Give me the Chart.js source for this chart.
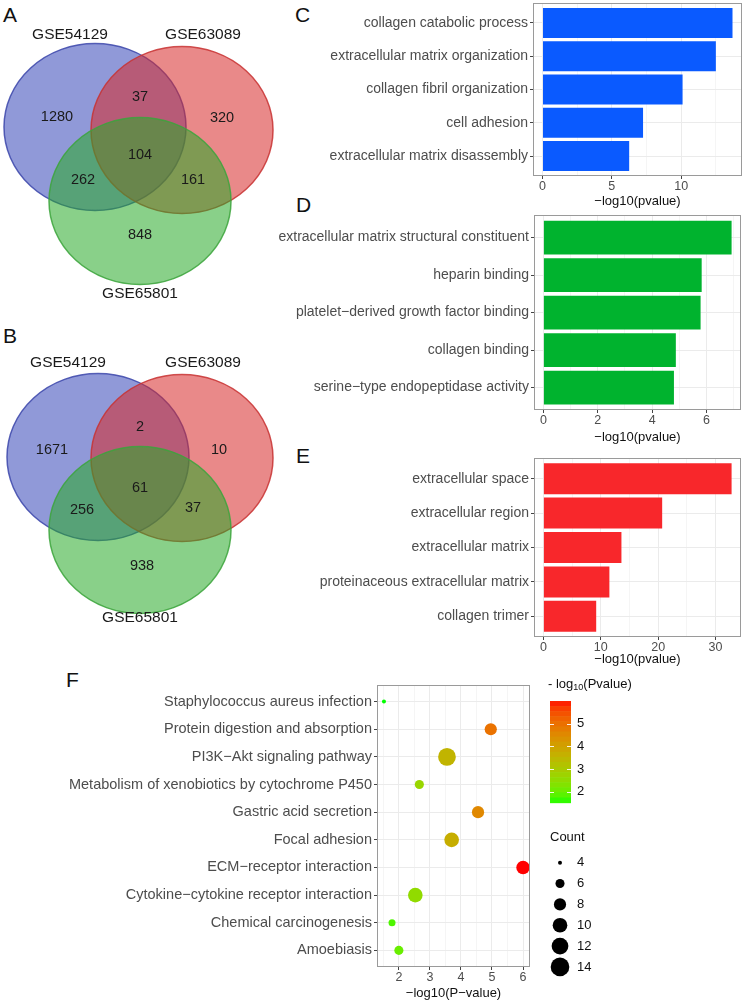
<!DOCTYPE html>
<html>
<head>
<meta charset="utf-8">
<script src="https://cdn.jsdelivr.net/npm/chart.js@4.4.1/dist/chart.umd.min.js"></script>
<style>
  body { margin: 0; background: #fff; width: 744px; height: 1004px; position: relative; overflow: hidden;
         font-family: "Liberation Sans", Arial, sans-serif; }
  canvas { position: absolute; }
  .tag { position: absolute; font-size: 21px; line-height: 1; color: #111; }
</style>
</head>
<body>
<div class="tag" style="left:3px;top:4px">A</div>
<div class="tag" style="left:3px;top:325px">B</div>
<div class="tag" style="left:295px;top:4px">C</div>
<div class="tag" style="left:296px;top:194px">D</div>
<div class="tag" style="left:296px;top:445px">E</div>
<div class="tag" style="left:66px;top:669px">F</div>

<canvas id="vennA"></canvas>
<canvas id="vennB"></canvas>
<canvas id="goBP"></canvas>
<canvas id="goMF"></canvas>
<canvas id="goCC"></canvas>
<canvas id="kegg"></canvas>

<script>
const FONT = '"Liberation Sans", Arial, sans-serif';

// Venn sets and region counts
// region order: only 1, 1&2, only 2, 1&3, all three, 2&3, only 3
const VENN_SETS = ["GSE54129", "GSE63089", "GSE65801"];
const VENN_A_COUNTS = [1280, 37, 320, 262, 104, 161, 848];
const VENN_B_COUNTS = [1671, 2, 10, 256, 61, 37, 938];

// GO enrichment, -log10(pvalue)
const BP_TERMS = ["collagen catabolic process", "extracellular matrix organization",
  "collagen fibril organization", "cell adhesion", "extracellular matrix disassembly"];
const BP_VALUES = [13.7, 12.5, 10.1, 7.25, 6.25];
const BP_TICKS = [0, 5, 10];

const MF_TERMS = ["extracellular matrix structural constituent", "heparin binding",
  "platelet\u2212derived growth factor binding", "collagen binding", "serine\u2212type endopeptidase activity"];
const MF_VALUES = [6.92, 5.82, 5.78, 4.87, 4.80];
const MF_TICKS = [0, 2, 4, 6];

const CC_TERMS = ["extracellular space", "extracellular region", "extracellular matrix",
  "proteinaceous extracellular matrix", "collagen trimer"];
const CC_VALUES = [32.8, 20.7, 13.6, 11.5, 9.2];
const CC_TICKS = [0, 10, 20, 30];

// KEGG pathways
const KEGG_TERMS = ["Staphylococcus aureus infection", "Protein digestion and absorption",
  "PI3K\u2212Akt signaling pathway", "Metabolism of xenobiotics by cytochrome P450",
  "Gastric acid secretion", "Focal adhesion", "ECM\u2212receptor interaction",
  "Cytokine\u2212cytokine receptor interaction", "Chemical carcinogenesis", "Amoebiasis"];
const KEGG_VALUES = [1.52, 4.96, 3.55, 2.66, 4.55, 3.7, 6.0, 2.53, 1.78, 2.0];
const KEGG_COUNTS = [4, 8, 13, 6, 8, 10, 9, 10, 5, 6];
const KEGG_TICKS = [2, 3, 4, 5, 6];
const COLOR_BREAKS = [2, 3, 4, 5];
const COUNT_BREAKS = [4, 6, 8, 10, 12, 14];

// layout of the two venn panels (canvas pixels)
const VENN_LAYOUT = {
  A: { left: 0, top: 0, w: 275, h: 300, rx: 91, ry: 83.5,
       circles: [[95, 127], [182, 130], [140, 201]],
       names: [[70, 35], [203, 35], [140, 294]],
       regions: [[57, 117], [140, 97], [222, 118], [83, 180], [140, 155], [193, 180], [140, 235]] },
  B: { left: 0, top: 300, w: 275, h: 330, rx: 91, ry: 83.5,
       circles: [[98, 157], [182, 158], [140, 230]],
       names: [[68, 63], [203, 63], [140, 318]],
       regions: [[52, 150], [140, 127], [219, 150], [82, 210], [140, 188], [193, 208], [142, 266]] }
};
const VENN_FILLS = ["rgba(70,85,190,0.6)", "rgba(215,40,40,0.55)", "rgba(40,170,40,0.55)"];
const VENN_LINES = ["rgba(60,70,170,0.85)", "rgba(200,50,50,0.85)", "rgba(60,165,60,0.85)"];

function place(canvas, box) {
  canvas.width = box.w;
  canvas.height = box.h;
  canvas.style.left = box.left + "px";
  canvas.style.top = box.top + "px";
}

const vennPlugin = {
  id: "venn",
  beforeDatasetsDraw(chart) {
    const lay = chart.options.plugins.venn.layout;
    const { ctx, scales: { x, y } } = chart;
    lay.circles.forEach((c, i) => {
      const cx = x.getPixelForValue(c[0]), cy = y.getPixelForValue(c[1]);
      const rx = Math.abs(x.getPixelForValue(c[0] + lay.rx) - cx);
      const ry = Math.abs(y.getPixelForValue(c[1] + lay.ry) - cy);
      ctx.save();
      ctx.beginPath();
      ctx.ellipse(cx, cy, rx, ry, 0, 0, Math.PI * 2);
      ctx.fillStyle = VENN_FILLS[i];
      ctx.fill();
      ctx.lineWidth = 1.5;
      ctx.strokeStyle = VENN_LINES[i];
      ctx.stroke();
      ctx.restore();
    });
  },
  afterDatasetsDraw(chart) {
    const { ctx } = chart;
    const opts = chart.options.plugins.venn;
    ctx.save();
    ctx.fillStyle = "#1a1a1a";
    ctx.textAlign = "center";
    ctx.textBaseline = "middle";
    ctx.font = "15.5px " + FONT;
    chart.getDatasetMeta(0).data.forEach((pt, i) => ctx.fillText(VENN_SETS[i], pt.x, pt.y));
    ctx.font = "14.5px " + FONT;
    chart.getDatasetMeta(1).data.forEach((pt, i) => ctx.fillText(String(opts.counts[i]), pt.x, pt.y));
    ctx.restore();
  }
};

function vennPanel(id, lay, counts) {
  const canvas = document.getElementById(id);
  place(canvas, lay);
  new Chart(canvas, {
    type: "scatter",
    data: {
      datasets: [
        { data: lay.names.map(p => ({ x: p[0], y: p[1] })), pointRadius: 0 },
        { data: lay.regions.map(p => ({ x: p[0], y: p[1] })), pointRadius: 0 }
      ]
    },
    options: {
      responsive: false, animation: false,
      layout: { padding: 0 },
      plugins: { legend: { display: false }, tooltip: { enabled: false },
                 venn: { layout: lay, counts: counts } },
      scales: {
        x: { type: "linear", min: 0, max: lay.w, display: false },
        y: { type: "linear", min: 0, max: lay.h, reverse: true, display: false }
      }
    },
    plugins: [vennPlugin]
  });
}

const framePlugin = {
  id: "frame",
  afterDatasetsDraw(chart) {
    const a = chart.chartArea, ctx = chart.ctx;
    ctx.save();
    ctx.strokeStyle = "#9a9a9a";
    ctx.lineWidth = 1;
    ctx.strokeRect(Math.round(a.left) + 0.5, Math.round(a.top) + 0.5,
      Math.round(a.right - a.left) - 1, Math.round(a.bottom - a.top) - 1);
    ctx.restore();
  }
};

// ggplot-like major + minor breaks
function withMinors(major) {
  const step = major[1] - major[0];
  const out = [];
  major.forEach(v => {
    out.push({ value: v, major: true });
    out.push({ value: v + step / 2, major: false });
  });
  out.unshift({ value: major[0] - step / 2, major: false });
  return out;
}

function gridColor(ctx) {
  return ctx.tick && ctx.tick.major === false ? "#f5f5f5" : "#ebebeb";
}

function xAxis(ticks, lo, hi, box, area, title) {
  return {
    type: "linear", min: lo, max: hi,
    afterBuildTicks: ax => {
      ax.ticks = withMinors(ticks).filter(t => t.value >= lo && t.value <= hi);
    },
    afterFit: ax => { ax.height = box.top + box.h - area.b; },
    border: { display: false },
    grid: {
      color: gridColor, lineWidth: 1, drawTicks: true, tickLength: 3,
      tickColor: c => (c.tick && c.tick.major === false ? "rgba(0,0,0,0)" : "#444")
    },
    ticks: {
      autoSkip: false, maxRotation: 0, padding: 0, color: "#4d4d4d",
      font: { family: FONT, size: 12.5 },
      callback: (v, i, arr) => (arr[i].major === false ? "" : String(v))
    },
    title: { display: true, text: title, color: "#111", padding: 0,
             font: { family: FONT, size: 13 } }
  };
}

function yAxis(terms, box, area, size) {
  return {
    type: "linear", reverse: true, min: 0.4, max: terms.length + 0.6,
    offset: false,
    afterBuildTicks: ax => { ax.ticks = terms.map((t, i) => ({ value: i + 1 })); },
    afterFit: ax => { ax.width = area.l - box.left; },
    border: { display: false },
    grid: { offset: false, color: "#ebebeb", drawTicks: true, tickLength: 3, tickColor: "#444" },
    ticks: { autoSkip: false, padding: 2, color: "#4d4d4d",
             font: { family: FONT, size: size, lineHeight: 0.1 },
             callback: v => terms[Math.round(v) - 1] }
  };
}

function barPanel(id, terms, values, ticks, color, box, area) {
  const canvas = document.getElementById(id);
  place(canvas, box);
  const top = Math.max(...values);
  const lo = -0.05 * top, hi = top * 1.05;
  new Chart(canvas, {
    type: "bar",
    data: {
      datasets: [{
        data: values.map((v, i) => ({ x: v, y: i + 1 })),
        backgroundColor: color, borderWidth: 0,
        categoryPercentage: 1, barPercentage: 0.9
      }]
    },
    options: {
      indexAxis: "y", responsive: false, animation: false,
      layout: { padding: { top: area.t - box.top, right: box.left + box.w - area.r, left: 0, bottom: 0 } },
      plugins: { legend: { display: false }, tooltip: { enabled: false } },
      scales: {
        x: xAxis(ticks, lo, hi, box, area, "\u2212log10(pvalue)"),
        y: yAxis(terms, box, area, 14)
      }
    },
    plugins: [framePlugin]
  });
}

// colour scale: green -> red interpolated in Lab like ggplot
function toLab([r, g, b]) {
  const lin = c => { c /= 255; return c <= 0.04045 ? c / 12.92 : Math.pow((c + 0.055) / 1.055, 2.4); };
  const R = lin(r), G = lin(g), B = lin(b);
  const X = (R * 0.4124 + G * 0.3576 + B * 0.1805) / 0.95047;
  const Y = R * 0.2126 + G * 0.7152 + B * 0.0722;
  const Z = (R * 0.0193 + G * 0.1192 + B * 0.9505) / 1.08883;
  const f = t => (t > 0.008856 ? Math.cbrt(t) : 7.787 * t + 16 / 116);
  const fx = f(X), fy = f(Y), fz = f(Z);
  return [116 * fy - 16, 500 * (fx - fy), 200 * (fy - fz)];
}
function fromLab([L, a, b]) {
  const fy = (L + 16) / 116, fx = fy + a / 500, fz = fy - b / 200;
  const inv = t => (t * t * t > 0.008856 ? t * t * t : (t - 16 / 116) / 7.787);
  const X = inv(fx) * 0.95047, Y = inv(fy), Z = inv(fz) * 1.08883;
  const R = X * 3.2406 - Y * 1.5372 - Z * 0.4986;
  const G = -X * 0.9689 + Y * 1.8758 + Z * 0.0415;
  const B = X * 0.0557 - Y * 0.2040 + Z * 1.0570;
  const gam = c => {
    c = c <= 0.0031308 ? 12.92 * c : 1.055 * Math.pow(c, 1 / 2.4) - 0.055;
    return Math.round(Math.max(0, Math.min(1, c)) * 255);
  };
  return [gam(R), gam(G), gam(B)];
}
const LOW = toLab([0, 255, 0]), HIGH = toLab([255, 0, 0]);
const VMIN = Math.min(...KEGG_VALUES), VMAX = Math.max(...KEGG_VALUES);
function colorFor(v) {
  const t = Math.max(0, Math.min(1, (v - VMIN) / (VMAX - VMIN)));
  const c = fromLab(LOW.map((l, i) => l + (HIGH[i] - l) * t));
  return `rgb(${c[0]},${c[1]},${c[2]})`;
}
function sizeFor(count) {
  return Math.sqrt(4 + (count - 4) * 8.3);
}

const keggLegend = {
  id: "keggLegend",
  afterDraw(chart) {
    const ctx = chart.ctx;
    const ox = -50, oy = -668; // page -> canvas offset
    ctx.save();
    ctx.fillStyle = "#111";
    ctx.textBaseline = "middle";
    ctx.textAlign = "left";
    // title with subscript
    let x = 548 + ox;
    const ty = 684 + oy;
    ctx.font = "13px " + FONT;
    ctx.fillText("- log", x, ty);
    x += ctx.measureText("- log").width;
    ctx.font = "9px " + FONT;
    ctx.fillText("10", x, ty + 4);
    x += ctx.measureText("10").width;
    ctx.font = "13px " + FONT;
    ctx.fillText("(Pvalue)", x, ty);

    // colour bar
    const unit = 22.67, barTop = 701 + oy, bx = 550 + ox, bw = 21;
    const yOf = v => barTop + (VMAX - v) * unit;
    const bins = 20;
    for (let i = 0; i < bins; i++) {
      const v0 = VMAX - (VMAX - VMIN) * i / bins;
      const v1 = VMAX - (VMAX - VMIN) * (i + 1) / bins;
      ctx.fillStyle = colorFor((v0 + v1) / 2);
      ctx.fillRect(bx, yOf(v0), bw, yOf(v1) - yOf(v0) + 0.6);
    }
    ctx.strokeStyle = "rgba(255,255,255,0.9)";
    ctx.lineWidth = 1;
    ctx.fillStyle = "#111";
    ctx.font = "13px " + FONT;
    COLOR_BREAKS.forEach(b => {
      const y = Math.round(yOf(b)) + 0.5;
      ctx.beginPath();
      ctx.moveTo(bx, y); ctx.lineTo(bx + 4, y);
      ctx.moveTo(bx + bw - 4, y); ctx.lineTo(bx + bw, y);
      ctx.stroke();
      ctx.fillText(String(b), 577 + ox, yOf(b));
    });

    // size legend
    ctx.fillText("Count", 550 + ox, 837 + oy);
    COUNT_BREAKS.forEach((c, i) => {
      const y = 862.7 + oy + i * 20.85;
      ctx.beginPath();
      ctx.arc(560 + ox, y, sizeFor(c), 0, Math.PI * 2);
      ctx.fillStyle = "#000";
      ctx.fill();
      ctx.fillStyle = "#111";
      ctx.fillText(String(c), 577 + ox, y);
    });
    ctx.restore();
  }
};

function keggPanel() {
  const box = { left: 50, top: 668, w: 694, h: 333 };
  const area = { l: 377, t: 685, r: 530, b: 967 };
  const canvas = document.getElementById("kegg");
  place(canvas, box);
  const span = VMAX - VMIN;
  const lo = VMIN - 0.05 * span, hi = VMAX + 0.05 * span;
  new Chart(canvas, {
    type: "scatter",
    data: {
      datasets: [{
        data: KEGG_VALUES.map((v, i) => ({ x: v, y: i + 1 })),
        pointRadius: c => sizeFor(KEGG_COUNTS[c.dataIndex]),
        backgroundColor: c => colorFor(KEGG_VALUES[c.dataIndex]),
        borderWidth: 0
      }]
    },
    options: {
      responsive: false, animation: false,
      layout: { padding: { top: area.t - box.top, right: box.left + box.w - area.r, left: 0, bottom: 0 } },
      plugins: { legend: { display: false }, tooltip: { enabled: false } },
      scales: {
        x: xAxis(KEGG_TICKS, lo, hi, box, area, "\u2212log10(P\u2212value)"),
        y: yAxis(KEGG_TERMS, box, area, 14.5)
      }
    },
    plugins: [framePlugin, keggLegend]
  });
}

vennPanel("vennA", VENN_LAYOUT.A, VENN_A_COUNTS);
vennPanel("vennB", VENN_LAYOUT.B, VENN_B_COUNTS);
barPanel("goBP", BP_TERMS, BP_VALUES, BP_TICKS, "#0a5aff",
  { left: 270, top: 0, w: 474, h: 209 }, { l: 533, t: 3, r: 742, b: 176 });
barPanel("goMF", MF_TERMS, MF_VALUES, MF_TICKS, "#00b32e",
  { left: 270, top: 205, w: 474, h: 240 }, { l: 534, t: 215, r: 741, b: 410 });
barPanel("goCC", CC_TERMS, CC_VALUES, CC_TICKS, "#f8272b",
  { left: 270, top: 448, w: 474, h: 219 }, { l: 534, t: 458, r: 741, b: 637 });
keggPanel();
</script>
</body>
</html>
